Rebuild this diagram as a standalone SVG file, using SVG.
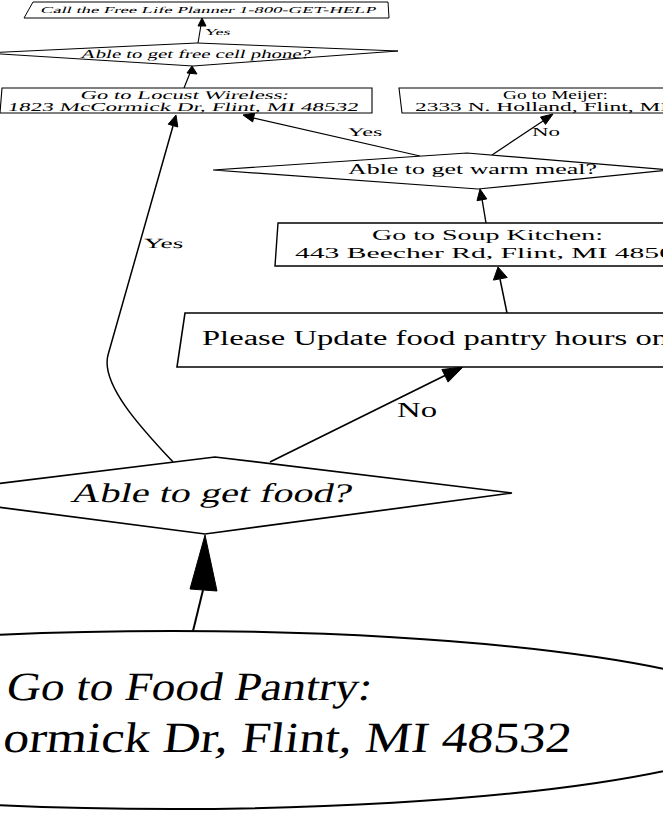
<svg xmlns="http://www.w3.org/2000/svg" width="663" height="825" viewBox="0 0 663 825">
<style>
.shape{fill:#fff;stroke:#000;stroke-linejoin:miter}
.t{font-family:"Liberation Serif","Times New Roman",serif;fill:#000}
.edge{fill:none;stroke:#000}
.head{fill:#000;stroke:#000;stroke-width:1}
</style>
<rect x="0" y="0" width="663" height="825" fill="#fff"/>
<g id="connectors">
  <path class="edge" stroke-width="1.1" d="M198,43 L201,25"/>
  <polygon class="head" points="202,18 198,26 206,26"/>
  <text class="t" font-size="9" textLength="26" lengthAdjust="spacingAndGlyphs" transform="translate(204,35) skewX(-15)">Yes</text>

  <path class="edge" stroke-width="1.2" d="M184,88 L190,73"/>
  <polygon class="head" points="192,66 187,73 197,74"/>

  <path class="edge" stroke-width="1.2" d="M420,156 L253,118"/>
  <polygon class="head" points="243,115 254.7,113.1 252.7,121.9"/>
  <text class="t" font-size="12" textLength="35" lengthAdjust="spacingAndGlyphs" transform="translate(347,136) skewX(-5)">Yes</text>

  <path class="edge" stroke-width="1.2" d="M492,155 L543,121"/>
  <polygon class="head" points="553,114 545.5,124.4 540.5,117"/>
  <text class="t" font-size="12" textLength="28" lengthAdjust="spacingAndGlyphs" transform="translate(532,136)">No</text>

  <path class="edge" stroke-width="1.4" d="M486,223 L482,199"/>
  <polygon class="head" points="480,189 486.8,198.9 477,200.7"/>

  <path class="edge" stroke-width="1.5" d="M507,313 L500,279"/>
  <polygon class="head" points="498,267 507.2,277.5 493.4,280.1"/>

  <path class="edge" stroke-width="1.7" d="M270,462 L446,375"/>
  <polygon class="head" points="463,367 448.1,382.1 441.9,369.5"/>
  <text class="t" font-size="22" textLength="40" lengthAdjust="spacingAndGlyphs" transform="translate(397,417)">No</text>

  <path class="edge" stroke-width="1.5" d="M173,462 C145,432 100,385 108,355 L173,126"/>
  <polygon class="head" points="176,115 177.8,127 168.2,124.2"/>
  <text class="t" font-size="14" textLength="40" lengthAdjust="spacingAndGlyphs" transform="translate(143,248) skewX(-8)">Yes</text>

  <path class="edge" stroke-width="2" d="M193,631 L203,590"/>
  <polygon class="head" points="205,535 217,591 190,589"/>
</g>

<g id="call_planner">
  <polygon class="shape" stroke-width="1" points="33,2 388,2 389,18 24,18"/>
  <text class="t" font-size="9" textLength="335" lengthAdjust="spacingAndGlyphs" transform="translate(40,12.5) skewX(-20)">Call the Free Life Planner 1-800-GET-HELP</text>
</g>

<g id="cell_phone">
  <polygon class="shape" stroke-width="1" points="-15,53 197,43 398,51 193,66"/>
  <text class="t" font-size="12" textLength="230" lengthAdjust="spacingAndGlyphs" transform="translate(80,58) skewX(-15)">Able to get free cell phone?</text>
</g>

<g id="locust_wireless">
  <polygon class="shape" stroke-width="1.1" points="2,88 372,88 372,113 0,113"/>
  <text class="t" font-size="12" textLength="208" lengthAdjust="spacingAndGlyphs" transform="translate(80,99) skewX(-14)">Go to Locust Wireless:</text>
  <text class="t" font-size="12" textLength="351" lengthAdjust="spacingAndGlyphs" transform="translate(7,111) skewX(-12)">1823 McCormick Dr, Flint, MI 48532</text>
</g>

<g id="meijer">
  <polygon class="shape" stroke-width="1.1" points="399,88 680,88 680,113 402,113"/>
  <text class="t" font-size="11.5" textLength="105" lengthAdjust="spacingAndGlyphs" transform="translate(503,98.5)">Go to Meijer:</text>
  <text class="t" font-size="12" textLength="253" lengthAdjust="spacingAndGlyphs" transform="translate(415,110.5)">2333 N. Holland, Flint, MI</text>
</g>

<g id="warm_meal">
  <polygon class="shape" stroke-width="1.2" points="213,170 467,153 670,170 478,189"/>
  <text class="t" font-size="14.5" textLength="249" lengthAdjust="spacingAndGlyphs" transform="translate(348,174)">Able to get warm meal?</text>
</g>

<g id="soup_kitchen">
  <polygon class="shape" stroke-width="1.4" points="278,223 680,223 680,266 275,266"/>
  <text class="t" font-size="15" textLength="231" lengthAdjust="spacingAndGlyphs" transform="translate(372,240)">Go to Soup Kitchen:</text>
  <text class="t" font-size="15" textLength="379" lengthAdjust="spacingAndGlyphs" transform="translate(295,257.5)">443 Beecher Rd, Flint, MI 4850</text>
</g>

<g id="update_hours">
  <polygon class="shape" stroke-width="1.6" points="185,313 680,313 680,367 177,367"/>
  <text class="t" font-size="20" textLength="466" lengthAdjust="spacingAndGlyphs" transform="translate(202,345)">Please Update food pantry hours on</text>
</g>

<g id="get_food">
  <polygon class="shape" stroke-width="1.7" points="-95,495 215,457 512,493 205,534"/>
  <text class="t" font-size="27" textLength="280" lengthAdjust="spacingAndGlyphs" transform="translate(70,502) skewX(-14)">Able to get food?</text>
</g>

<g id="food_pantry">
  <ellipse class="shape" stroke-width="2" cx="172" cy="720" rx="600" ry="89"/>
  <text class="t" font-size="40" textLength="365" lengthAdjust="spacingAndGlyphs" transform="translate(5,700) skewX(-10)">Go to Food Pantry:</text>
  <text class="t" font-size="43" textLength="568" lengthAdjust="spacingAndGlyphs" transform="translate(2,752) skewX(-7)">ormick Dr, Flint, MI 48532</text>
</g>
</svg>
